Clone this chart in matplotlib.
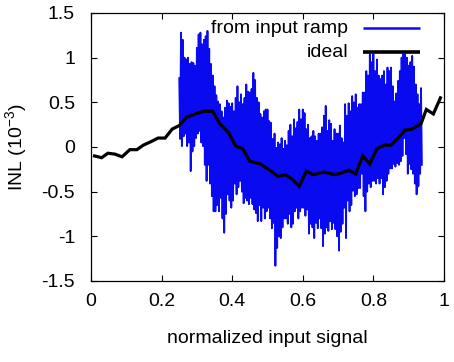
import numpy as np
import matplotlib
matplotlib.use("Agg")
import matplotlib.pyplot as plt

plt.rcParams['font.family'] = ['Liberation Sans', 'DejaVu Sans']
plt.rcParams['mathtext.default'] = 'regular'
plt.rcParams['axes.unicode_minus'] = False

# ---- data: "from input ramp" (noisy measurement), envelope read per 0.005 step ----
ramp_x_start = 0.25
ramp_x_end = 0.9375
ramp_upper = [
    0.77, 1.28, 1.20, 1.00, 0.98, 1.00, 0.93, 0.95, 0.94, 0.91,
    1.11, 1.26, 1.28, 1.15, 1.20, 1.24, 1.30, 1.10, 0.93, 0.80,
    0.68, 0.58, 0.51, 0.48, 0.40, 0.33, 0.44, 0.52, 0.49, 0.45,
    0.49, 0.40, 0.55, 0.68, 0.50, 0.59, 0.48, 0.55, 0.70, 0.62,
    0.61, 0.65, 0.83, 0.75, 0.55, 0.50, 0.37, 0.33, 0.40, 0.42,
    0.42, 0.29, 0.27, 0.09, 0.15, -0.01, 0.05, 0.03, 0.10, -0.02,
    0.07, 0.02, 0.18, 0.25, 0.12, 0.31, 0.21, 0.28, 0.42, 0.31,
    0.42, 0.38, 0.20, 0.25, 0.10, 0.12, 0.18, 0.12, 0.07, 0.15,
    0.15, 0.22, 0.35, 0.46, 0.18, 0.30, 0.26, 0.07, 0.20, 0.15,
    0.15, 0.24, 0.10, 0.05, 0.48, 0.35, 0.49, 0.40, 0.57, 0.50,
    0.59, 0.44, 0.48, 0.48, 0.61, 0.61, 0.85, 0.80, 1.04, 0.95,
    1.04, 0.85, 0.98, 0.80, 0.76, 0.80, 0.85, 0.70, 0.89, 0.85,
    0.89, 0.68, 0.51, 0.60, 0.74, 0.85, 1.00, 1.04, 1.04, 1.00,
    0.91, 0.95, 1.02, 0.90, 0.70, 0.59, 0.48, 0.66,
]
ramp_lower = [
    0.09, 0.01, 0.12, 0.15, 0.01, 0.05, -0.27, -0.05, 0.01, 0.10,
    0.15, 0.18, 0.05, 0.01, -0.20, -0.38, -0.20, -0.41, -0.55, -0.72,
    -0.72, -0.65, -0.72, -0.57, -0.80, -0.96, -0.75, -0.53, -0.60, -0.68,
    -0.60, -0.41, -0.53, -0.45, -0.38, -0.50, -0.63, -0.57, -0.60, -0.64,
    -0.57, -0.64, -0.70, -0.74, -0.83, -0.65, -0.83, -0.68, -0.80, -0.72,
    -0.68, -0.80, -0.91, -0.85, -1.33, -1.13, -1.00, -1.02, -0.90, -0.80,
    -0.80, -0.86, -0.75, -0.90, -0.86, -0.72, -0.68, -0.80, -0.72, -0.68,
    -0.68, -0.77, -0.70, -0.97, -0.86, -0.90, -1.02, -0.85, -0.91, -0.80,
    -0.91, -1.11, -0.97, -0.90, -0.94, -0.83, -0.92, -0.85, -0.92, -1.00,
    -1.16, -0.95, -0.86, -0.68, -1.02, -0.60, -0.72, -0.65, -0.49, -0.55,
    -0.53, -0.46, -0.46, -0.30, -0.55, -0.72, -0.50, -0.41, -0.45, -0.38,
    -0.38, -0.41, -0.35, -0.41, -0.35, -0.53, -0.45, -0.38, -0.30, -0.24,
    -0.24, -0.19, -0.22, -0.18, -0.20, -0.16, -0.10, 0.10, -0.08, -0.30,
    -0.19, -0.25, -0.30, -0.41, -0.53, -0.44, -0.30, -0.20,
]

# ---- data: "ideal" INL ----
ideal_x = [0.01, 0.03, 0.048, 0.068, 0.088, 0.11, 0.13, 0.148, 0.17, 0.19,
           0.21, 0.23, 0.25, 0.27, 0.295, 0.32, 0.345, 0.365, 0.39, 0.41,
           0.43, 0.45, 0.48, 0.51, 0.53, 0.55, 0.57, 0.59, 0.61, 0.63,
           0.66, 0.69, 0.71, 0.73, 0.75, 0.77, 0.79, 0.81, 0.83, 0.85,
           0.87, 0.89, 0.91, 0.935, 0.95, 0.97, 0.99]
ideal_y = [-0.10, -0.12, -0.07, -0.08, -0.11, -0.03, -0.03, 0.02, 0.06, 0.10,
           0.10, 0.20, 0.24, 0.33, 0.37, 0.40, 0.40, 0.26, 0.16, 0.01,
           -0.02, -0.16, -0.19, -0.27, -0.33, -0.31, -0.36, -0.44, -0.27, -0.31,
           -0.28, -0.31, -0.29, -0.26, -0.30, -0.10, -0.19, -0.02, 0.02, 0.02,
           0.10, 0.19, 0.20, 0.26, 0.42, 0.37, 0.55]

x_ticks = [0, 0.2, 0.4, 0.6, 0.8, 1]
x_tick_labels = ['0', '0.2', '0.4', '0.6', '0.8', '1']
y_ticks = [-1.5, -1, -0.5, 0, 0.5, 1, 1.5]
y_tick_labels = ['-1.5', '-1', '-0.5', '0', '0.5', '1', '1.5']

# interleave read envelope values into the oscillating trace
ramp_y = np.column_stack([ramp_upper, ramp_lower]).ravel()
ramp_x = np.linspace(ramp_x_start, ramp_x_end, len(ramp_y))

FS = 14

fig = plt.figure(figsize=(4.54, 3.62), dpi=100)
ax = fig.add_axes([0.2004, 0.2238, 0.7775, 0.7403])

blue = '#0a0af0'
ax.plot(ramp_x, ramp_y, color=blue, lw=1.3, zorder=2)
ax.plot(ideal_x, ideal_y, color='black', lw=2.3, zorder=3, solid_joinstyle='miter')

ax.set_xlim(0, 1)
ax.set_ylim(-1.5, 1.5)
ax.set_xticks(x_ticks)
ax.set_xticklabels(x_tick_labels)
ax.set_yticks(y_ticks)
ax.set_yticklabels(y_tick_labels)
ax.tick_params(direction='in', length=4, width=0.8, top=True, right=True,
               labelsize=FS, colors='black')
ax.tick_params(axis='x', pad=9)
ax.tick_params(axis='y', pad=11.5)
for s in ax.spines.values():
    s.set_linewidth(0.9)

ax.set_xlabel('normalized input signal', fontsize=FS)
ax.set_ylabel('INL (10$^{-3}$)', fontsize=FS)
ax.xaxis.set_label_coords(0.5, -0.183)
ax.yaxis.set_label_coords(-0.177, 0.5)

# legend in gnuplot style: right-aligned text followed by a line sample
leg_rows = [('from input ramp', blue, 1.8, 0.944), ('ideal', 'black', 2.6, 0.854)]
for label, col, lw, yy in leg_rows:
    ax.text(0.728, yy, label, transform=ax.transAxes, ha='right', va='center',
            fontsize=FS, zorder=5)
    ax.plot([0.771, 0.932], [yy, yy], transform=ax.transAxes, color=col, lw=lw,
            zorder=5, solid_capstyle='butt')

fig.savefig('out.png', dpi=100)
